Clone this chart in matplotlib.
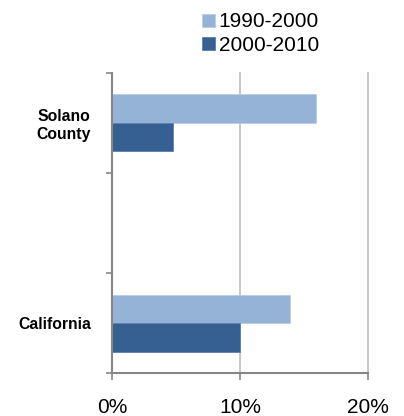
import matplotlib
matplotlib.use("Agg")
import matplotlib.pyplot as plt
import numpy as np
from matplotlib.ticker import FuncFormatter

plt.rcParams['font.family'] = ['Liberation Sans', 'DejaVu Sans']

categories = ["Solano\nCounty", "", "California"]
series_names = ["1990-2000", "2000-2010"]
growth_1990_2000 = [15.9, np.nan, 13.9]
growth_2000_2010 = [4.8, np.nan, 10.0]
x_ticks = [0, 10, 20]

light = "#95B3D7"
dark = "#366092"
axis_gray = "#868686"
grid_gray = "#BDBDBD"

fig = plt.figure(figsize=(4.04, 4.16), dpi=100)
ax = fig.add_axes([0.277, 0.103, 0.634, 0.722])

y = np.arange(len(categories))
h = 0.285
b1 = ax.barh(y - h / 2, growth_1990_2000, height=h, color=light,
             edgecolor="#B9CDE5", linewidth=0.6, label=series_names[0], zorder=3)
b2 = ax.barh(y + h / 2, growth_2000_2010, height=h, color=dark,
             edgecolor="#5C7FAE", linewidth=0.6, label=series_names[1], zorder=3)

ax.set_xlim(0, 20)
ax.set_ylim(len(categories) - 0.5, -0.5)
ax.set_xticks(x_ticks)
ax.xaxis.set_major_formatter(FuncFormatter(lambda v, p: f"{v:.0f}%"))
ax.tick_params(axis='x', length=5, width=1.2, color=axis_gray, labelsize=15, pad=13)

ax.set_yticks(np.arange(len(categories) + 1) - 0.5)
ax.set_yticklabels([])
ax.tick_params(axis='y', which='major', length=4, width=1.2, color=axis_gray)
ax.set_yticks(y, minor=True)
ax.set_yticklabels(categories, minor=True, fontweight='bold', fontsize=11.3,
                   ha='right', multialignment='center')
ax.tick_params(axis='y', which='minor', length=0, pad=15)

ax.grid(axis='x', color=grid_gray, linewidth=1.2, zorder=0)
for gl in ax.get_xgridlines():
    gl.set_clip_on(False)
for s in ['top', 'right']:
    ax.spines[s].set_visible(False)
for s in ['left', 'bottom']:
    ax.spines[s].set_color(axis_gray)
    ax.spines[s].set_linewidth(1.5)
    ax.spines[s].set_zorder(4)

fig.legend(handles=[b1, b2], labels=series_names, loc='upper left',
           bbox_to_anchor=(0.48, 0.99), frameon=False, fontsize=15,
           handlelength=0.6, handleheight=0.6, handletextpad=0.18,
           labelspacing=0.2, borderaxespad=0)

fig.savefig("out.png", dpi=100)
